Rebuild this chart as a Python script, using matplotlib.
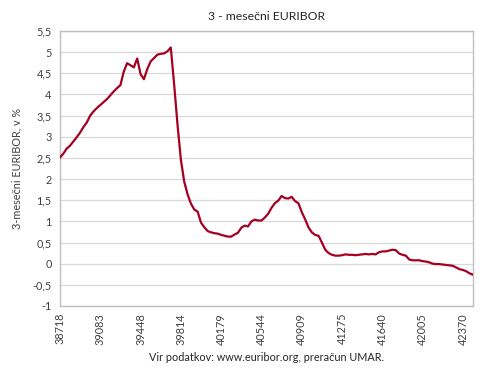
import matplotlib.pyplot as plt
from matplotlib.ticker import FuncFormatter

plt.rcParams['font.family'] = ['Lato', 'DejaVu Sans']

# mesečna povprečja 3-mesečnega EURIBOR-ja, jan 2006 - apr 2016
euribor_2006 = [2.51, 2.60, 2.72, 2.79, 2.89, 2.99, 3.10, 3.23, 3.34, 3.50, 3.60, 3.68]
euribor_2007 = [3.75, 3.82, 3.89, 3.98, 4.07, 4.15, 4.22, 4.54, 4.74, 4.69, 4.64, 4.85]
euribor_2008 = [4.48, 4.36, 4.60, 4.78, 4.86, 4.94, 4.96, 4.97, 5.02, 5.11, 4.24, 3.29]
euribor_2009 = [2.46, 1.94, 1.64, 1.42, 1.28, 1.23, 0.97, 0.86, 0.77, 0.74, 0.72, 0.71]
euribor_2010 = [0.68, 0.66, 0.64, 0.64, 0.69, 0.73, 0.85, 0.90, 0.88, 1.00, 1.04, 1.02]
euribor_2011 = [1.02, 1.09, 1.18, 1.32, 1.43, 1.49, 1.60, 1.55, 1.54, 1.58, 1.48, 1.43]
euribor_2012 = [1.22, 1.05, 0.86, 0.74, 0.68, 0.66, 0.50, 0.33, 0.25, 0.21, 0.19, 0.19]
euribor_2013 = [0.20, 0.22, 0.21, 0.21, 0.20, 0.21, 0.22, 0.23, 0.22, 0.23, 0.22, 0.27]
euribor_2014 = [0.29, 0.29, 0.31, 0.33, 0.32, 0.24, 0.21, 0.19, 0.10, 0.08, 0.08, 0.08]
euribor_2015 = [0.06, 0.05, 0.03, 0.00, -0.01, -0.01, -0.02, -0.03, -0.04, -0.05, -0.09, -0.13]
euribor_2016 = [-0.15, -0.18, -0.23, -0.26]

vrednosti = (euribor_2006 + euribor_2007 + euribor_2008 + euribor_2009 + euribor_2010
             + euribor_2011 + euribor_2012 + euribor_2013 + euribor_2014 + euribor_2015
             + euribor_2016)

# oznake na osi x (Excelove serijske številke datumov, vsakih 12 mesecev)
oznake_x = ['38718', '39083', '39448', '39814', '40179', '40544',
            '40909', '41275', '41640', '42005', '42370']

fig = plt.figure(figsize=(4.9, 3.78), dpi=100)
ax = fig.add_axes([0.1224, 0.1905, 0.8429, 0.7275])

x = list(range(len(vrednosti)))
ax.plot(x, vrednosti, color='#A50021', lw=1.6, zorder=3)

ax.set_xlim(0, len(vrednosti) - 1)
ax.set_ylim(-1, 5.5)
ax.set_yticks([i * 0.5 - 1 for i in range(14)])
ax.yaxis.set_major_formatter(FuncFormatter(lambda v, p: f'{v:g}'.replace('.', ',')))
ax.set_xticks([i * 12 for i in range(len(oznake_x))])
ax.set_xticklabels(oznake_x, rotation=90)

ax.grid(axis='y', color='#D9D9D9', lw=0.9)
ax.set_axisbelow(True)
for s in ax.spines.values():
    s.set_color('#BFBFBF')
    s.set_linewidth(1.0)
ax.tick_params(axis='y', length=0, labelsize=7.8, colors='#404040', pad=6)
ax.tick_params(axis='x', length=0, labelsize=7.8, labelcolor='#404040', pad=5)

ax.set_title('3 - mesečni EURIBOR', fontsize=8.8, color='#262626', pad=8)
ax.set_ylabel('3-mesečni EURIBOR, v %', fontsize=7.8, color='#404040', labelpad=7)

fig.text(0.544, 0.055, 'Vir podatkov: www.euribor.org, preračun UMAR.',
         ha='center', va='center', fontsize=7.8, color='#262626')

fig.savefig('out.png', dpi=100)
